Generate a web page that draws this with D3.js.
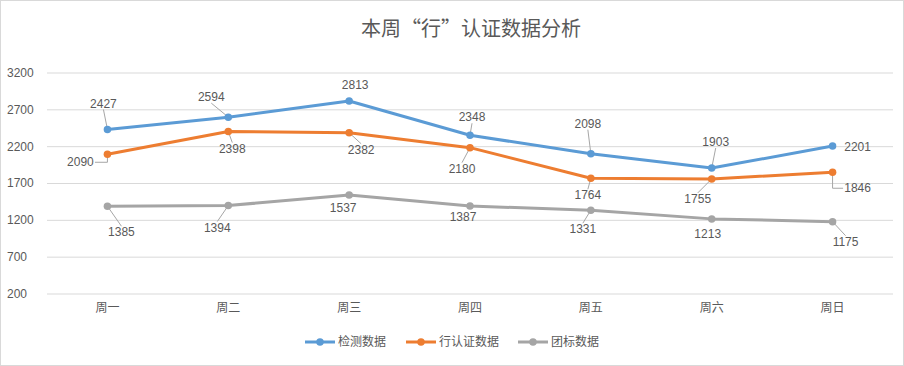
<!DOCTYPE html>
<html><head><meta charset="utf-8">
<script src="https://cdn.jsdelivr.net/npm/d3@7"></script>
<style>
html,body{margin:0;padding:0;background:#fff;}
svg{display:block;}
</style></head>
<body>
<svg id="chart" width="904" height="366"></svg>
<script>
const title = "本周“行”认证数据分析";
const categories = ["周一","周二","周三","周四","周五","周六","周日"];
const seriesNames = ["检测数据","行认证数据","团标数据"];
const detect = [2427,2594,2813,2348,2098,1903,2201];
const industry = [2090,2398,2382,2180,1764,1755,1846];
const group = [1385,1394,1537,1387,1331,1213,1175];
const yTicks = [200,700,1200,1700,2200,2700,3200];
const colors = ["#5B9BD5","#ED7D31","#A5A5A5"];
// label placement: [dx, dy, leader]
const detectLabelPos = [[-4,-26,1],[-17,-20,1],[6,-16,0],[2,-18,1],[-3,-30,1],[4,-26,1],[25,1,0]];
const industryLabelPos = [[-27,8,1],[4,17,1],[12,17,1],[-8,21,1],[-3,17,1],[-14,20,1],[25,16,1]];
const groupLabelPos = [[14,26,1],[-11,22,1],[-6,13,0],[-7,11,0],[-8,19,1],[-4,15,0],[13,20,1]];

const series = [
  {name: seriesNames[0], values: detect, pos: detectLabelPos, color: colors[0]},
  {name: seriesNames[1], values: industry, pos: industryLabelPos, color: colors[1]},
  {name: seriesNames[2], values: group, pos: groupLabelPos, color: colors[2]}
];

const svg = d3.select("#chart");
const numFont = "'Liberation Sans', Arial, sans-serif";
const cjkFont = "'Noto Sans CJK SC', sans-serif";
const textColor = "#595959";

// outer border
svg.append("rect").attr("x",0.5).attr("y",0.5).attr("width",903).attr("height",365)
  .attr("fill","#fff").attr("stroke","#D9D9D9").attr("stroke-width",1);

// title
svg.append("text").attr("x",471).attr("y",36).attr("text-anchor","middle")
  .attr("font-family",cjkFont).attr("font-size",20).attr("fill",textColor).text(title);

const x = d3.scaleBand().domain(categories).range([47,893]);
const y = d3.scaleLinear().domain([200,3200]).range([293.5,72.5]);

// grid
const yAxis = d3.axisLeft(y).tickValues(yTicks).tickSize(-(893-47)).tickFormat(d=>d);
const gy = svg.append("g").attr("transform","translate(47,0)").call(yAxis);
gy.select(".domain").remove();
gy.selectAll(".tick line").attr("stroke","#D9D9D9").attr("stroke-width",1);
gy.selectAll(".tick text").attr("x",-40).attr("text-anchor","start")
  .attr("font-family",numFont).attr("font-size",12).attr("fill",textColor);

// x axis
const xAxis = d3.axisBottom(x).tickSize(0).tickPadding(10);
const gx = svg.append("g").attr("transform","translate(0,293.5)").call(xAxis);
gx.select(".domain").remove();
gx.selectAll(".tick text").attr("font-family",cjkFont).attr("font-size",12).attr("fill",textColor);

const cx = (i) => x(categories[i]) + x.bandwidth()/2;
const line = d3.line().x((d,i)=>cx(i)).y(d=>y(d));

// leader lines & labels
const lw = 27, lh = 12;
series.forEach(s => {
  const g = svg.append("g");
  s.values.forEach((v,i) => {
    const px = cx(i), py = y(v);
    const [dx,dy,lead] = s.pos[i];
    const lx = px+dx, ly = py+dy;
    if (lead) {
      const bx0 = lx-lw/2-1, bx1 = lx+lw/2+1, by0 = ly-lh/2, by1 = ly+lh/2;
      let pts;
      if (Math.abs(dx) > Math.abs(dy)+5) {
        // elbow: vertical to label middle, then horizontal to label side
        const ex = dx > 0 ? bx0 : bx1;
        pts = [[px,py],[px,ly],[ex,ly]];
      } else {
        // attach to label's top or bottom centre
        pts = [[px,py],[lx, dy < 0 ? by1 : by0]];
      }
      g.append("path").attr("d", d3.line()(pts)).attr("fill","none")
        .attr("stroke","#A6A6A6").attr("stroke-width",1);
    }
    g.append("text").attr("x",lx).attr("y",ly).attr("dy","0.35em").attr("text-anchor","middle")
      .attr("font-family",numFont).attr("font-size",12).attr("fill",textColor).text(v);
  });
});

// lines and markers
series.forEach(s => {
  svg.append("path").datum(s.values).attr("d",line).attr("fill","none")
    .attr("stroke",s.color).attr("stroke-width",3).attr("stroke-linejoin","round").attr("stroke-linecap","round");
  svg.append("g").selectAll("circle").data(s.values).join("circle")
    .attr("cx",(d,i)=>cx(i)).attr("cy",d=>y(d)).attr("r",3.75).attr("fill",s.color);
});

// legend
const legendX = [305, 406, 518];
const lg = svg.append("g");
series.forEach((s,k) => {
  const g = lg.append("g").attr("transform",`translate(${legendX[k]},342)`);
  g.append("line").attr("x1",0).attr("x2",30).attr("y1",0).attr("y2",0)
    .attr("stroke",s.color).attr("stroke-width",3);
  g.append("circle").attr("cx",15).attr("cy",0).attr("r",3.75).attr("fill",s.color);
  g.append("text").attr("x",33).attr("y",0).attr("dy","0.35em")
    .attr("font-family",cjkFont).attr("font-size",12).attr("fill",textColor).text(s.name);
});
</script>
</body></html>
